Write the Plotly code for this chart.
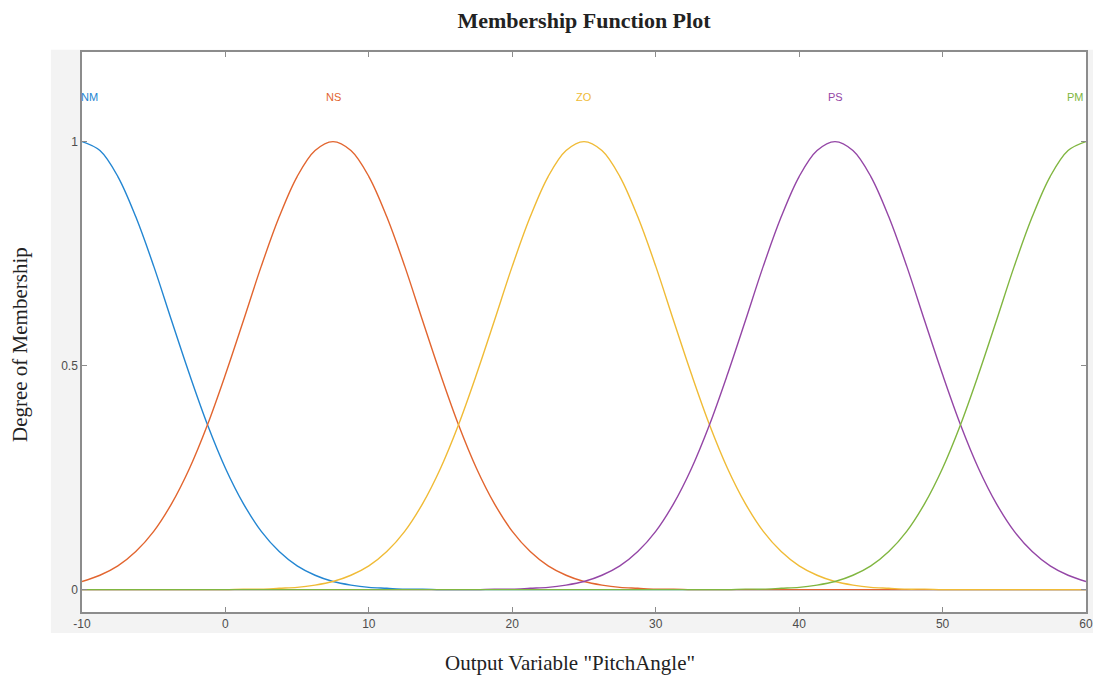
import plotly.graph_objects as go

# x sample positions (Output Variable "PitchAngle"), every 1.25
x_vals = [-10 + 1.25 * i for i in range(57)]

# Degree of membership
nm_vals = [1.0, 0.98, 0.922, 0.832, 0.722, 0.6, 0.48, 0.368, 0.271, 0.192,
           0.13, 0.085, 0.053, 0.032, 0.018, 0.01, 0.005, 0.003, 0.001, 0.001] + [0] * 37
ns_vals = [0.018, 0.032, 0.053, 0.085, 0.13, 0.192, 0.271, 0.368, 0.48, 0.6,
           0.722, 0.832, 0.922, 0.98, 1.0, 0.98, 0.922, 0.832, 0.722, 0.6,
           0.48, 0.368, 0.271, 0.192, 0.13, 0.085, 0.053, 0.032, 0.018, 0.01,
           0.005, 0.003, 0.001, 0.001] + [0] * 23
zo_vals = [0] * 9 + [0.001, 0.001, 0.003, 0.005, 0.01, 0.018, 0.032, 0.053, 0.085,
                     0.13, 0.192, 0.271, 0.368, 0.48, 0.6, 0.722, 0.832, 0.922, 0.98,
                     1.0, 0.98, 0.922, 0.832, 0.722, 0.6, 0.48, 0.368, 0.271, 0.192,
                     0.13, 0.085, 0.053, 0.032, 0.018, 0.01, 0.005, 0.003, 0.001,
                     0.001] + [0] * 9
ps_vals = [0] * 23 + [0.001, 0.001, 0.003, 0.005, 0.01, 0.018, 0.032, 0.053, 0.085,
                      0.13, 0.192, 0.271, 0.368, 0.48, 0.6, 0.722, 0.832, 0.922, 0.98,
                      1.0, 0.98, 0.922, 0.832, 0.722, 0.6, 0.48, 0.368, 0.271, 0.192,
                      0.13, 0.085, 0.053, 0.032, 0.018]
pm_vals = [0] * 37 + [0.001, 0.001, 0.003, 0.005, 0.01, 0.018, 0.032, 0.053, 0.085,
                      0.13, 0.192, 0.271, 0.368, 0.48, 0.6, 0.722, 0.832, 0.922, 0.98,
                      1.0]

mf_names = ["NM", "NS", "ZO", "PS", "PM"]
mf_peaks = [-10, 7.5, 25, 42.5, 60]
mf_series = [nm_vals, ns_vals, zo_vals, ps_vals, pm_vals]
mf_colors = ["#2386d2", "#e2652f", "#f0bb36", "#9446a6", "#80b640"]

x_ticks = [-10, 0, 10, 20, 30, 40, 50, 60]
x_tick_text = ["-10", "0", "10", "20", "30", "40", "50", "60"]
y_ticks = [0, 0.5, 1]
y_tick_text = ["0", "0.5", "1"]

fig = go.Figure()
for name, ys, col in zip(mf_names, mf_series, mf_colors):
    fig.add_trace(go.Scatter(x=x_vals, y=ys, mode="lines", name=name,
                             line=dict(color=col, width=1.4, shape="spline", smoothing=1.0),
                             showlegend=False, hoverinfo="x+y+name"))

# MF labels above the peaks
anchors = ["left", "center", "center", "center", "right"]
for name, px, col, anc in zip(mf_names, mf_peaks, mf_colors, anchors):
    fig.add_annotation(x=px, y=1.1, xref="x", yref="y", text=name, showarrow=False,
                       xanchor=anc, yanchor="middle", xshift=(-3 if anc == "left" else 0),
                       font=dict(family="Liberation Sans, Arial, sans-serif", size=11, color=col))

# light grey figure strip behind the axes (MATLAB style), white plot box on top of it
fig.add_shape(type="rect", xref="paper", yref="paper", x0=-0.031, x1=1.007,
              y0=-0.0375, y1=1.004, fillcolor="#f3f3f3", line=dict(width=0), layer="below")
fig.add_shape(type="rect", xref="paper", yref="paper", x0=0, x1=1,
              y0=0, y1=1, fillcolor="white", line=dict(width=0), layer="below")

axis_col = "#8c8c8c"
fig.update_xaxes(range=[-10, 60], tickvals=x_ticks, ticktext=x_tick_text, ticks="inside", ticklen=5,
                 tickcolor=axis_col, showline=True, linecolor=axis_col, linewidth=1.5,
                 mirror="ticks", showgrid=False, zeroline=False,
                 tickfont=dict(family="Liberation Sans, Arial, sans-serif", size=12, color="#4d4d4d"))
fig.update_yaxes(range=[-0.05, 1.2], tickvals=y_ticks, ticktext=y_tick_text, ticks="inside",
                 ticklen=5, tickcolor=axis_col, showline=True, linecolor=axis_col, linewidth=1.5,
                 mirror="ticks", showgrid=False, zeroline=False,
                 tickfont=dict(family="Liberation Sans, Arial, sans-serif", size=12, color="#4d4d4d"))

fig.add_annotation(x=0.5, y=0, xref="paper", yref="paper", yshift=-51, xshift=-14,
                   text='Output Variable "PitchAngle"', showarrow=False,
                   xanchor="center", yanchor="middle",
                   font=dict(family="Liberation Serif, Times New Roman, serif", size=21, color="#222222"))
fig.add_annotation(x=0, y=0.5, xref="paper", yref="paper", xshift=-62, yshift=-13,
                   text="Degree of Membership", showarrow=False, textangle=-90,
                   xanchor="center", yanchor="middle",
                   font=dict(family="Liberation Serif, Times New Roman, serif", size=21, color="#222222"))

fig.update_layout(
    width=1102, height=677,
    margin=dict(l=82, r=9, t=52, b=65),
    paper_bgcolor="white", plot_bgcolor="white",
    title=dict(text="<b>Membership Function Plot</b>", x=0.5, xref="paper", xanchor="center",
               y=0.970, yref="container", yanchor="middle",
               font=dict(family="Liberation Serif, Times New Roman, serif", size=22, color="#222222")),
)

fig.write_html("out.html")
